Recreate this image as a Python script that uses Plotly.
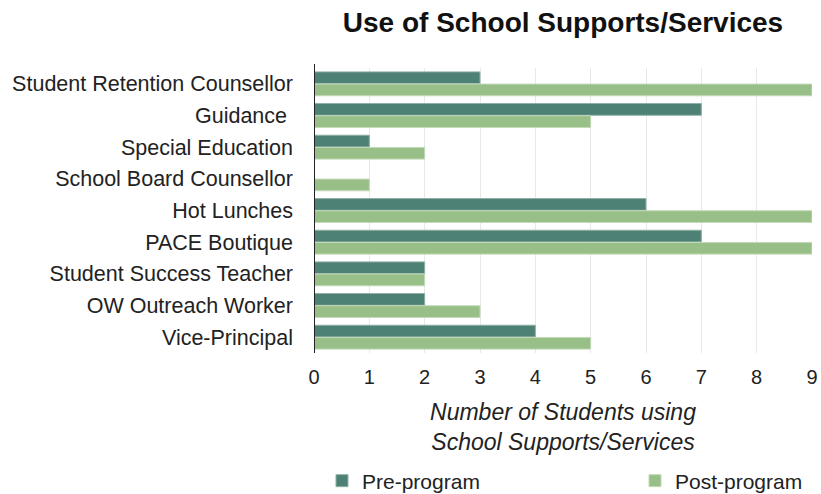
import plotly.graph_objects as go

categories = ["Student Retention Counsellor", "Guidance ", "Special Education",
              "School Board Counsellor", "Hot Lunches", "PACE Boutique",
              "Student Success Teacher", "OW Outreach Worker", "Vice-Principal"]
pre_program = [3, 7, 1, 0, 6, 7, 2, 2, 4]
post_program = [9, 5, 2, 1, 9, 9, 2, 3, 5]
x_ticks = list(range(0, 10))

FONT = "Liberation Sans, Arial, Helvetica, sans-serif"
W, H = 821, 494

fig = go.Figure()
fig.add_trace(go.Bar(y=categories, x=pre_program, orientation="h", name="Pre-program",
                     legend="legend2", showlegend=True,
                     marker=dict(color="#4e8175", line=dict(color="#8fb0a6", width=1))))
fig.add_trace(go.Bar(y=categories, x=post_program, orientation="h", name="Post-program",
                     legend="legend3", showlegend=True,
                     marker=dict(color="#98bf88", line=dict(color="#c2dab7", width=1))))

legend_common = dict(orientation="h", xanchor="left", yref="container", yanchor="middle",
                     y=1 - 481 / H, font=dict(size=21, color="#222"),
                     bgcolor="rgba(0,0,0,0)", visible=True)

fig.update_layout(
    width=W, height=H,
    margin=dict(l=314, r=9, t=68, b=141, autoexpand=False),
    paper_bgcolor="white", plot_bgcolor="white",
    barmode="group", bargap=0.23, bargroupgap=0.04,
    font=dict(family=FONT, size=20, color="#222"),
    title=dict(text="<b>Use of School Supports/Services</b>", x=0.5, xref="paper",
               xanchor="center", y=1 - 22 / H, yref="container", yanchor="middle",
               font=dict(size=28, color="#111")),
    xaxis=dict(range=[0, 9], tickvals=x_ticks, showgrid=True, gridcolor="#e8e8e8",
               gridwidth=1, zeroline=False, showline=False, ticks="",
               tickfont=dict(size=20, color="#222"), ticklabelstandoff=10,
               title=dict(text="<i>Number of Students using<br>School Supports/Services</i>",
                          font=dict(size=23, color="#222"), standoff=16)),
    yaxis=dict(autorange="reversed", showgrid=False, zeroline=False,
               showline=False, ticks="", ticklabelstandoff=20,
               tickfont=dict(size=21.5, color="#222")),
    legend2=dict(x=(322 - 314) / 498, **legend_common),
    legend3=dict(x=(635 - 314) / 498, **legend_common),
    shapes=[dict(type="line", xref="x", yref="paper", x0=0, x1=0, y0=0, y1=1.014,
                 line=dict(color="#222", width=2))],
)

fig.write_html("out.html", config={"displayModeBar": False},
               post_script="document.body.style.margin='0';document.body.style.padding='0';")
